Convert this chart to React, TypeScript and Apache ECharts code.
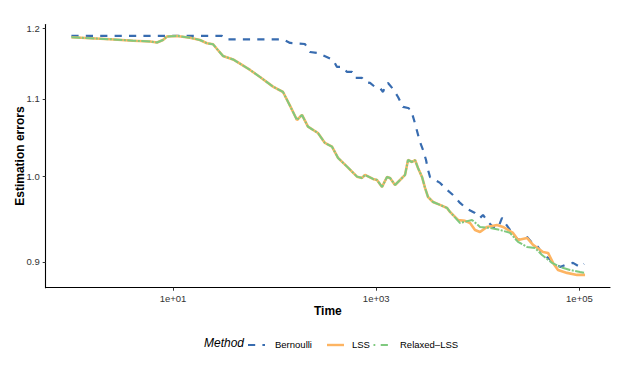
import React, { useEffect, useRef } from "react";
import * as echarts from "echarts";

// ---- Data (Time, Estimation error) ----
const bernoulliTime = [1, 30.4, 33.2, 121, 142, 199, 223, 261, 293, 376, 411, 461, 516, 578, 618, 725, 776, 869, 973, 1090, 1167, 1249, 1307, 1463, 1640, 1837, 2056, 2202, 2356, 2522, 2698, 2890, 3093, 3236, 3386, 3793, 4249, 4981, 5699, 6685, 7834, 9385, 10510, 11250, 12600, 14120, 15810, 17310, 18530, 20750, 24880, 30500, 34200, 39170, 43870, 49130, 54980, 64430, 72150, 86450, 101400, 111000];
const bernoulliError = [1.1887, 1.1887, 1.1836, 1.1836, 1.1785, 1.177, 1.1655, 1.1641, 1.1612, 1.1541, 1.1442, 1.1442, 1.1372, 1.1372, 1.1288, 1.1288, 1.1233, 1.1219, 1.1164, 1.115, 1.1095, 1.1205, 1.1219, 1.1136, 1.1027, 1.0893, 1.0879, 1.0852, 1.0719, 1.0575, 1.0433, 1.0331, 1.0204, 1.008, 0.9993, 0.9956, 0.992, 0.9835, 0.9774, 0.9679, 0.9607, 0.956, 0.9502, 0.9537, 0.9455, 0.9397, 0.9385, 0.9502, 0.9443, 0.9362, 0.9248, 0.9282, 0.9214, 0.9168, 0.9078, 0.9045, 0.9001, 0.8945, 0.8967, 0.899, 0.8945, 0.8979];

const lssTime = [1, 2.4, 4.04, 5.94, 6.96, 7.97, 8.73, 10.9, 14.7, 18.4, 21.6, 24.8, 27.1, 31, 39, 47.8, 57.3, 71.8, 96.4, 121, 142, 166, 186, 213, 267, 313, 367, 421, 516, 647, 725, 776, 930, 1018, 1141, 1277, 1368, 1531, 1716, 1921, 2056, 2251, 2410, 2578, 2824, 3023, 3236, 3625, 4249, 4981, 5326, 6385, 7484, 8381, 9385, 10510, 12320, 15460, 17710, 22200, 24880, 30500, 34990, 43870, 49130, 54980, 61560, 75510, 94670, 113600];
const lssError = [1.1868, 1.1839, 1.1818, 1.1807, 1.1792, 1.1828, 1.188, 1.1887, 1.1862, 1.1828, 1.1781, 1.1766, 1.1698, 1.1598, 1.1548, 1.147, 1.14, 1.1302, 1.1168, 1.1095, 1.0906, 1.0719, 1.0786, 1.0631, 1.0549, 1.042, 1.0373, 1.023, 1.0121, 0.9997, 0.9981, 1.0018, 0.9969, 0.9956, 0.9871, 0.9993, 0.9981, 0.9895, 0.9956, 1.0018, 1.0204, 1.0179, 1.0204, 1.0104, 0.9993, 0.9859, 0.975, 0.969, 0.9655, 0.9619, 0.9572, 0.9478, 0.9467, 0.9443, 0.9362, 0.9339, 0.9397, 0.942, 0.9397, 0.9328, 0.9248, 0.927, 0.9191, 0.9112, 0.9101, 0.899, 0.8912, 0.888, 0.8858, 0.8858];

const relaxedTime = [1, 2.4, 4.04, 5.94, 6.96, 7.97, 8.73, 10.9, 14.7, 18.4, 21.6, 24.8, 27.1, 31, 39, 47.8, 57.3, 71.8, 96.4, 121, 142, 166, 186, 213, 267, 313, 367, 421, 516, 647, 725, 776, 930, 1018, 1141, 1277, 1368, 1531, 1716, 1921, 2056, 2251, 2410, 2578, 2824, 3023, 3236, 3625, 4249, 4981, 5326, 6685, 8771, 10510, 13190, 16550, 20750, 24880, 30500, 36560, 42890, 53750, 64430, 80800, 101400, 113600];
const relaxedError = [1.1868, 1.1839, 1.1818, 1.1807, 1.1792, 1.1828, 1.188, 1.1887, 1.1862, 1.1828, 1.1781, 1.1766, 1.1698, 1.1598, 1.1548, 1.147, 1.14, 1.1302, 1.1168, 1.1095, 1.0906, 1.0719, 1.0786, 1.0631, 1.0549, 1.042, 1.0373, 1.023, 1.0121, 0.9997, 0.9981, 1.0018, 0.9969, 0.9956, 0.9871, 0.9993, 0.9981, 0.9895, 0.9956, 1.0018, 1.0204, 1.0179, 1.0204, 1.0104, 0.9993, 0.9859, 0.975, 0.969, 0.9655, 0.9619, 0.9572, 0.9443, 0.9478, 0.9397, 0.9385, 0.9362, 0.9328, 0.9225, 0.9168, 0.9157, 0.9078, 0.899, 0.8945, 0.8912, 0.889, 0.888];

const methods = ["Bernoulli", "LSS", "Relaxed\u2013LSS"];
const xTickExponents = [1, 3, 5];
const yTickValues = [0.9, 1.0, 1.1, 1.2];

const COLORS = ["#386cb0", "#fdb462", "#7fc97f"];
const FONT = "'Liberation Sans', Arial, Helvetica, sans-serif";

const toPairs = (t: number[], v: number[]) =>
  t.map((x, i) => [Math.log10(x), Math.log10(v[i])]);

export default function App() {
  const ref = useRef<HTMLDivElement>(null);

  useEffect(() => {
    document.body.style.margin = "0";
    if (!ref.current) return;
    const chart = echarts.init(ref.current, undefined, { renderer: "svg" });

    const yTicksLog = yTickValues.map((v) => Math.log10(v));

    const legendY = 345;
    const option: any = {
      animation: false,
      backgroundColor: "#ffffff",
      textStyle: { fontFamily: FONT },
      grid: {
        left: 45.7,
        top: 24.5,
        width: 564.3,
        height: 263.2,
        containLabel: false,
        outerBoundsMode: "none",
      },
      xAxis: {
        type: "value",
        min: -0.253,
        max: 5.301,
        name: "Time",
        nameLocation: "middle",
        nameGap: 17,
        nameMoveOverlap: false,
        nameTextStyle: { fontWeight: "bold", fontSize: 12, color: "#000", fontFamily: FONT },
        axisLine: { show: true, onZero: false, lineStyle: { color: "#000", width: 1.1 } },
        axisTick: { show: true, customValues: xTickExponents, length: 3, lineStyle: { color: "#333", width: 1 } },
        axisLabel: {
          customValues: xTickExponents,
          formatter: (v: number) => "1e+0" + Math.round(v),
          fontSize: 9.5,
          color: "#333",
          margin: 6,
          fontFamily: FONT,
        },
        splitLine: { show: false },
      },
      yAxis: {
        type: "value",
        min: -0.0595,
        max: 0.0812,
        name: "Estimation errors",
        nameLocation: "middle",
        nameGap: 20,
        nameMoveOverlap: false,
        nameTextStyle: { fontWeight: "bold", fontSize: 12, color: "#000", fontFamily: FONT },
        axisLine: { show: true, onZero: false, lineStyle: { color: "#000", width: 1.1 } },
        axisTick: { show: true, customValues: yTicksLog, length: 3, lineStyle: { color: "#333", width: 1 } },
        axisLabel: {
          customValues: yTicksLog,
          formatter: (v: number) => Math.pow(10, v).toFixed(1),
          fontSize: 9.5,
          color: "#333",
          margin: 6,
          fontFamily: FONT,
        },
        splitLine: { show: false },
      },
      series: [
        {
          name: methods[0],
          type: "line",
          data: toPairs(bernoulliTime, bernoulliError),
          showSymbol: false,
          symbol: "none",
          silent: true,
          lineStyle: { color: COLORS[0], width: 2.2, type: [7.2, 7.2] },
          z: 2,
        },
        {
          name: methods[1],
          type: "line",
          data: toPairs(lssTime, lssError),
          showSymbol: false,
          symbol: "none",
          silent: true,
          lineStyle: { color: COLORS[1], width: 2.6, type: "solid" },
          z: 3,
        },
        {
          name: methods[2],
          type: "line",
          data: toPairs(relaxedTime, relaxedError),
          showSymbol: false,
          symbol: "none",
          silent: true,
          lineStyle: { color: COLORS[2], width: 2, type: [9, 1.5, 2, 1.5] },
          z: 4,
        },
      ],
      graphic: [
        {
          type: "text",
          left: 204,
          top: legendY - 8,
          style: { text: "Method", fill: "#000", font: `italic 12px ${FONT}` },
        },
        {
          type: "line",
          shape: { x1: 248, y1: legendY, x2: 265, y2: legendY },
          style: { stroke: COLORS[0], lineWidth: 2.2, lineDash: [7.2, 7.2] },
        },
        {
          type: "text",
          left: 275,
          top: legendY - 6,
          style: { text: methods[0], fill: "#000", font: `9.5px ${FONT}` },
        },
        {
          type: "line",
          shape: { x1: 327, y1: legendY, x2: 344, y2: legendY },
          style: { stroke: COLORS[1], lineWidth: 2.4 },
        },
        {
          type: "text",
          left: 352,
          top: legendY - 6,
          style: { text: methods[1], fill: "#000", font: `9.5px ${FONT}` },
        },
        {
          type: "line",
          shape: { x1: 373.5, y1: legendY, x2: 390, y2: legendY },
          style: { stroke: COLORS[2], lineWidth: 2, lineDash: [1.8, 5.4, 7.2, 5.4] },
        },
        {
          type: "text",
          left: 400,
          top: legendY - 6,
          style: { text: methods[2], fill: "#000", font: `9.5px ${FONT}` },
        },
      ],
    };

    chart.setOption(option);
    return () => chart.dispose();
  }, []);

  return <div ref={ref} style={{ width: 623, height: 374 }} />;
}
